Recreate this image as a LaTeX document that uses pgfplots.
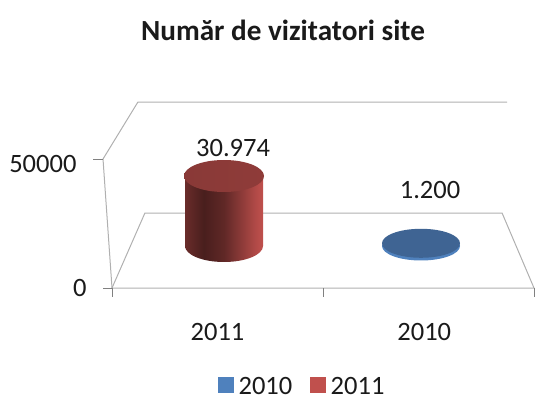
\documentclass[border=0pt]{standalone}
\usepackage{fontspec}
\setmainfont{Carlito}
\usepackage{pgfplots}
\pgfplotsset{compat=1.18}
\definecolor{gridc}{HTML}{B0B0B0}
\definecolor{tickc}{HTML}{808080}
\definecolor{txt}{HTML}{1A1A1A}
\definecolor{blueS}{HTML}{4F81BD}
\definecolor{blueT}{HTML}{3F6493}
\definecolor{redS}{HTML}{C0504D}
\pgfdeclarehorizontalshading{redcyl}{100bp}{%
 color(0bp)=(redS!55!black);
 color(25bp)=(redS!55!black);
 color(37bp)=(redS!38!black);
 color(50bp)=(redS!50!black);
 color(62bp)=(redS!75!black);
 color(70bp)=(redS!92!black);
 color(75bp)=(redS);
 color(100bp)=(redS)}
\pgfdeclarehorizontalshading{redtop}{100bp}{%
 color(0bp)=(redS!70!black);
 color(100bp)=(redS!76!black)}
\pgfdeclareplotmark{redbottom}{\pgfpathellipse{\pgfpointorigin}{\pgfqpoint{39pt}{0pt}}{\pgfqpoint{0pt}{16pt}}\pgfshadepath{redcyl}{0}\pgfusepath{discard}}
\pgfdeclareplotmark{redupper}{\pgfpathellipse{\pgfpointorigin}{\pgfqpoint{40pt}{0pt}}{\pgfqpoint{0pt}{16pt}}\pgfshadepath{redtop}{0}\pgfusepath{discard}}
\pgfdeclareplotmark{bluebottom}{\pgfsetfillcolor{blueS}\pgfpathellipse{\pgfpointorigin}{\pgfqpoint{39pt}{0pt}}{\pgfqpoint{0pt}{14.5pt}}\pgfusepath{fill}}
\pgfdeclareplotmark{blueupper}{\pgfsetfillcolor{blueT}\pgfpathellipse{\pgfpointorigin}{\pgfqpoint{39pt}{0pt}}{\pgfqpoint{0pt}{14.5pt}}\pgfusepath{fill}}
\newcommand{\fs}{\fontsize{26.5}{30}\selectfont}
\begin{document}
\begin{tikzpicture}[x=1pt,y=1pt]
\path[use as bounding box] (0,0) rectangle (535,399);
\node[font=\fontsize{29.2}{32}\selectfont\bfseries,text=txt] at (283,369) {Număr de vizitatori site};
% frame: x in categories (0..2 = front floor edge), y in visitors
\begin{axis}[
  at={(112pt,111pt)},anchor=south west,scale only axis,width=422pt,height=129pt,
  xmin=0,xmax=2,ymin=0,ymax=50000,clip=false,
  axis line style={draw=none},
  xtick={0.5,1.48},xticklabels={2011,2010},major x tick style={draw=none},
  xtick align=outside,
  ytick={0},major y tick style={draw=none},
  extra y ticks={50000},
  extra y tick style={yticklabel style={xshift=-10pt,yshift=-5pt},major y tick style={draw=none}},
  scaled y ticks=false,
  /pgf/number format/1000 sep={},
  /pgf/number format/assume math mode=true,
  tick label style={font=\fs,text=txt},
  xticklabel style={yshift=-28pt},
  yticklabel style={xshift=-22pt},
  legend style={at={(0.451,-0.765)},anchor=center,draw=none,fill=none,legend columns=2,
    font=\fs,text=txt,/tikz/every even column/.append style={column sep=16pt},
    inner sep=0pt,row sep=0pt},
  legend image code/.code={\fill[#1] (0pt,-6pt) rectangle (15pt,9pt);\path (18pt,0pt);},
]
\addlegendimage{blueS}\addlegendentry{2010}
\addlegendimage{redS}\addlegendentry{2011}
% floor, walls
\addplot[gridc,line width=1pt,forget plot] coordinates {(0,0)(2,0)(1.8487,29070)(0.1560,29070)(0,0)};
\addplot[gridc,line width=1pt,forget plot] coordinates {(0,0)(-0.0426,50000)(0.1229,72093)(1.8724,72093)};
% ticks
\addplot[tickc,line width=1pt,forget plot] coordinates {(-0.0426,0)(0,0)};
\addplot[tickc,line width=1pt,forget plot] coordinates {(-0.0899,50000)(-0.0426,50000)};
\addplot[tickc,line width=1pt,forget plot] coordinates {(0,0)(0,-3500)};
\addplot[tickc,line width=1pt,forget plot] coordinates {(1,0)(1,-3500)};
\addplot[tickc,line width=1pt,forget plot] coordinates {(2,0)(2,-3500)};
\end{axis}
% cylinders: 0 = 2011, 1 = 2010, standing on the floor
\begin{axis}[
  at={(0pt,0pt)},anchor=south west,scale only axis,width=535pt,height=399pt,
  xmin=-1.13706,xmax=1.57868,ymin=-67700,ymax=108850,
  hide axis,clip=false,
]
\addplot[only marks,mark=bluebottom] coordinates {(1,0)};
\addplot[only marks,mark=blueupper] coordinates {(1,1200)};
\addplot[only marks,mark=redbottom] coordinates {(0,0)};
\addplot[ybar,bar width=78pt,bar shift=0pt,draw=none,shading=redcyl] coordinates {(0,30974)};
\addplot[only marks,mark=redupper] coordinates {(0,30974)};
\node[font=\fs,text=txt] at (axis cs:0.046,43270) {30.974};
\node[font=\fs,text=txt] at (axis cs:1.046,24700) {1.200};
\end{axis}
\end{tikzpicture}
\end{document}
